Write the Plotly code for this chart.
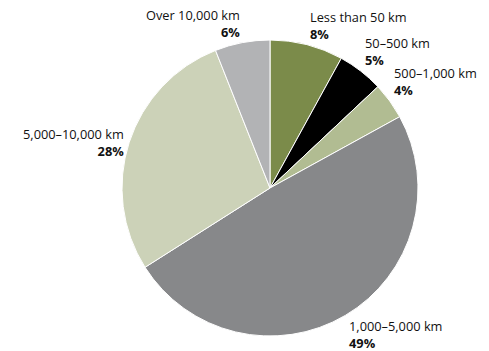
import math
import plotly.graph_objects as go

categories = ["Less than 50 km", "50–500 km", "500–1,000 km", "1,000–5,000 km",
              "5,000–10,000 km", "Over 10,000 km"]
shares = [8, 5, 4, 49, 28, 6]
colors = ["#7b8b4a", "#000000", "#b1bc92", "#87888a", "#ccd2b8", "#b2b3b5"]

W, H = 489, 351
cx, cy, R = 270, 188, 148

fig = go.Figure(go.Pie(
    labels=categories, values=shares, sort=False, direction="clockwise",
    rotation=0, textinfo="none", hoverinfo="label+percent",
    marker=dict(colors=colors, line=dict(color="#ffffff", width=1)),
    domain=dict(x=[(cx - R) / W, (cx + R) / W], y=[1 - (cy + R) / H, 1 - (cy - R) / H]),
    showlegend=False,
))

total = sum(shares)
cum = 0
annotations = []
for name, v in zip(categories, shares):
    mid = (cum + v / 2) / total * 2 * math.pi
    cum += v
    s, c = math.sin(mid), math.cos(mid)
    px = cx + R * 1.02 * s
    py = cy - R * 1.0 * c
    xa = "left" if s > 0 else "right"
    ya = "bottom" if c > 0.4 else ("top" if c < -0.4 else "middle")
    annotations.append(dict(
        x=px / W, y=1 - py / H, xref="paper", yref="paper",
        text=f"{name}<br><b>{round(v / total * 100)}%</b>",
        showarrow=False, xanchor=xa, yanchor=ya, align=xa,
        font=dict(family="Open Sans, sans-serif", size=12.8, color="#111111"),
    ))

fig.update_layout(
    width=W, height=H, margin=dict(l=0, r=0, t=0, b=0),
    paper_bgcolor="white", plot_bgcolor="white",
    annotations=annotations,
)
fig.write_html("out.html", config={"displayModeBar": False},
               post_script="document.body.style.margin='0';")
